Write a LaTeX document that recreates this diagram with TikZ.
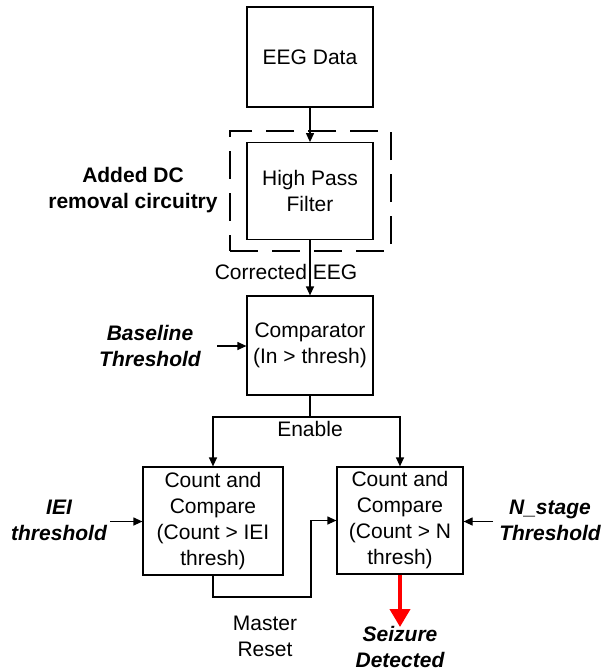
\documentclass[tikz,border=0pt]{standalone}
\usepackage{fontspec}
\setmainfont{Liberation Sans}
\usetikzlibrary{arrows.meta}

\begin{document}
\begin{tikzpicture}[x=0.5pt, y=-0.5pt,
  every node/.style={font=\fontsize{10.5}{13}\selectfont, align=center, inner sep=0pt},
  blk/.style={draw, line width=0.6pt, minimum width=63pt, minimum height=50pt},
  bi/.style={font=\fontsize{10.5}{13}\selectfont\bfseries\itshape},
  arr/.style={-{Triangle[length=4.5pt,width=4pt]}, line width=0.6pt},
  dcbox/.style={draw, line width=0.9pt, dash pattern=on 14pt off 7pt, minimum width=80.5pt, minimum height=60pt},
  alarm/.style={-{Triangle[length=9pt,width=10pt]}, line width=2pt, red}]
\useasboundingbox (0,0) rectangle (601,670);
% main chain
\node[blk] (eeg) at (310,57) {EEG Data};
\node[dcbox] (dc) at (310.5,191) {};
\node[blk, minimum height=48.3pt] (hpf) at (310,191) {High Pass\\Filter};
\node[blk, minimum height=49.5pt] (cmp) at (310,345.5) {Comparator\\(In > thresh)};
\node[blk, minimum width=70pt, minimum height=54pt] (cnt1) at (213,521) {Count and\\Compare\\(Count > IEI\\thresh)};
\node[blk, minimum height=53.5pt] (cnt2) at (400,520.5) {Count and\\Compare\\(Count > N\\thresh)};
% labels
\node[font=\fontsize{10.5}{13}\selectfont\bfseries] (dclbl) at (133,190) {Added DC\\removal circuitry};
\node (celbl) at (286,272) {Corrected EEG};
\node[bi] (bllbl) at (150,345.5) {Baseline\\Threshold};
\node (enlbl) at (310,429) {Enable};
\node[bi] (ieilbl) at (59,520) {IEI\\threshold};
\node[bi] (nlbl) at (550,520) {N\_stage\\Threshold};
\node (mrlbl) at (265,636) {Master\\Reset};
\node[bi] (szlbl) at (400,647) {Seizure\\Detected};
% free ends and bends
\coordinate (bl) at (217,346);
\coordinate (iei) at (110,521.5);
\coordinate (ns) at (493,521.5);
\coordinate (en) at (310,417);
\coordinate (mr) at (311,597);
\coordinate (sz) at (400,627);
% connectors
\draw[arr] (eeg) -- (hpf);
\draw[arr] (hpf) -- (cmp);
\draw[arr] (bl) -- (bl -| cmp.west);
\draw[line width=0.6pt] (cmp) -- (en);
\draw[arr] (en) -| (cnt1.north);
\draw[arr] (en) -| (cnt2.north);
\draw[arr] (iei) -- (iei -| cnt1.west);
\draw[arr] (ns) -- (ns -| cnt2.east);
\draw[arr] (cnt1.south) |- (mr) |- (cnt2.west);
\draw[alarm] (cnt2.south) -- (sz);
\end{tikzpicture}
\end{document}
